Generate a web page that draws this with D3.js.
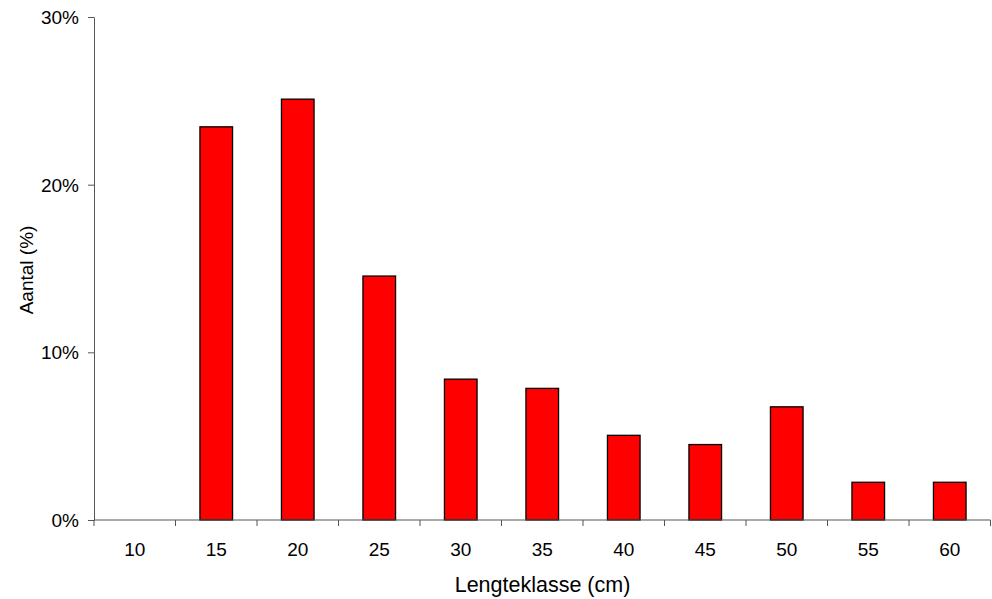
<!DOCTYPE html>
<html><head><meta charset="utf-8">
<script src="https://cdn.jsdelivr.net/npm/d3@7"></script>
<style>body{margin:0;background:#fff}svg{display:block}text{font-family:"Liberation Sans",Arial,sans-serif;fill:#000}</style>
</head><body><svg id="c" width="992" height="599"></svg>
<script>
const categories = ["10","15","20","25","30","35","40","45","50","55","60"];
const values = [0, 23.45, 25.1, 14.55, 8.4, 7.85, 5.05, 4.5, 6.75, 2.25, 2.25];
const yTicks = [0, 10, 20, 30];

const svg = d3.select("#c");
const xb = d3.scaleBand().domain(categories).range([94, 990.5]);
const y = d3.scaleLinear().domain([0, 30]).range([520, 17]);

svg.append("g").selectAll("rect").data(categories).join("rect")
  .attr("x", (d) => xb(d) + xb.bandwidth()*0.3)
  .attr("width", xb.bandwidth()*0.4)
  .attr("y", (d,i) => y(values[i]))
  .attr("height", (d,i) => y(0) - y(values[i]))
  .attr("fill", "#ff0000").attr("stroke", "#000").attr("stroke-width", 1.3)
  .style("display", (d,i) => values[i] > 0 ? null : "none");

// y axis
const ya = svg.append("g").attr("transform", "translate(94,0)")
  .call(d3.axisLeft(y).tickValues(yTicks).tickFormat(d => d + "%").tickSize(6).tickSizeOuter(0));
ya.select(".domain").attr("stroke", "#555");
ya.selectAll(".tick line").attr("stroke", "#555");
ya.selectAll(".tick text").attr("font-size", 19).attr("x", -15).attr("dy", "0.35em").style("font-family", '"Liberation Sans",Arial,sans-serif');

// x axis
const xa = svg.append("g").attr("transform", "translate(0,520)");
xa.append("line").attr("x1", 94).attr("x2", 990.5).attr("y1", 0).attr("y2", 0).attr("stroke", "#555");
const edges = categories.map(c => xb(c)).concat([xb(categories[categories.length-1]) + xb.bandwidth()]);
xa.selectAll("line.t").data(edges).join("line").attr("class", "t")
  .attr("x1", d => d).attr("x2", d => d).attr("y1", 0).attr("y2", 6).attr("stroke", "#555");
xa.selectAll("text").data(categories).join("text")
  .attr("x", d => xb(d) + xb.bandwidth()/2).attr("y", 35.5)
  .attr("text-anchor", "middle").attr("font-size", 19).text(d => d);

svg.append("text").attr("x", 542.5).attr("y", 591.5).attr("text-anchor", "middle").attr("font-size", 21.5).text("Lengteklasse (cm)");
svg.append("text").attr("transform", "translate(33,270) rotate(-90)").attr("text-anchor", "middle").attr("font-size", 19).text("Aantal (%)");
</script></body></html>
